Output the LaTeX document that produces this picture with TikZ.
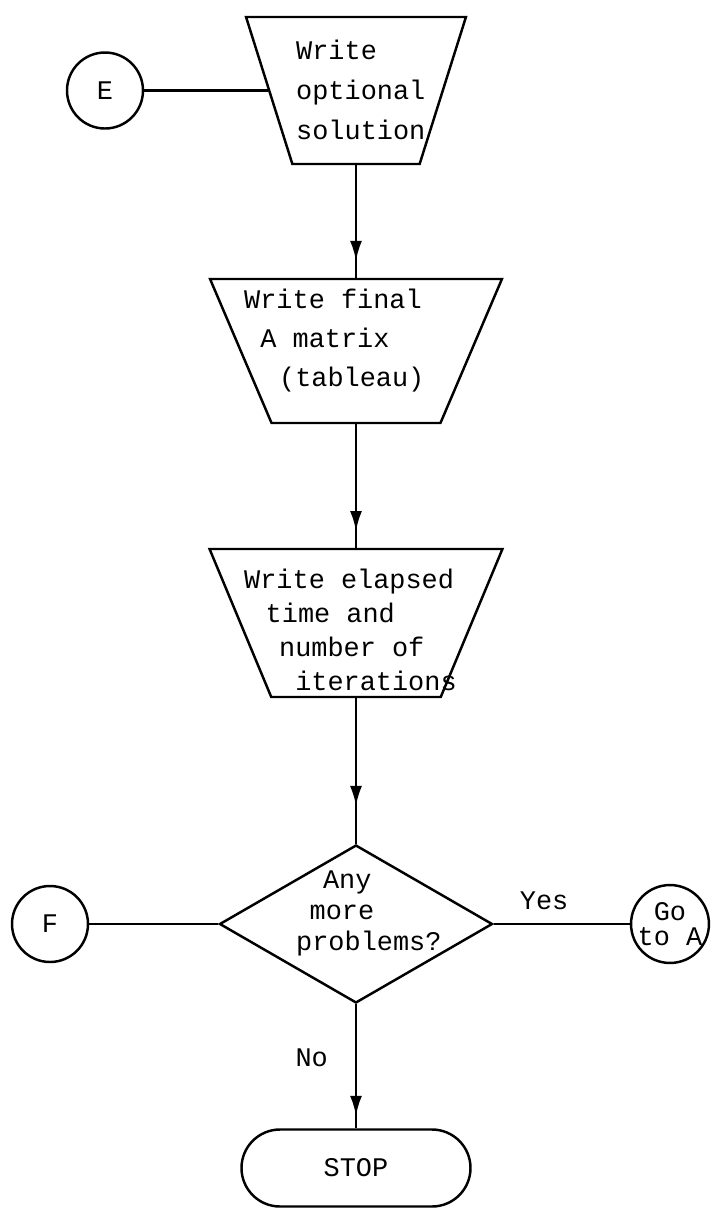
\documentclass[tikz,border=0pt]{standalone}
\usepackage{fontspec}
\setmonofont{Liberation Mono}
\usetikzlibrary{arrows.meta,shapes.geometric,decorations.markings}

\begin{document}
\begin{tikzpicture}[line width=1.4pt, font=\ttfamily\fontsize{15.3}{19}\selectfont,
    iobox/.style={draw, trapezium, trapezium left angle=70, trapezium right angle=70,
        shape border rotate=180, trapezium stretches=true, inner sep=2pt},
    conn/.style={draw, circle, inner sep=0pt, minimum size=1.52cm},
    flowtext/.style={align=left, anchor=west, inner sep=0pt,
        font=\ttfamily\fontsize{15.3}{#1}\selectfont},
    headat/.style={postaction={decorate}, decoration={markings,
        mark=at position #1 with {\arrow{Latex[length=4mm,width=2.4mm]}}}}]
    \useasboundingbox (0,0) rectangle (14.22,-24.32);

    \node[iobox, minimum width=4.40cm, minimum height=2.94cm] (opt) at (7.12,-1.81) {};
    \node[flowtext=22.8pt] (opttxt) at (5.90,-1.80) {Write\\optional\\solution};
    \node[conn] (E) at (2.10,-1.81) {E};
    \draw (E) -- (opt);

    \node[iobox, minimum width=5.84cm, minimum height=2.88cm] (fin) at (7.12,-7.02) {};
    \node[flowtext=22.2pt] (fintxt) at (4.86,-6.82) {Write final\\\hspace*{0.6em}A matrix\\\hspace*{1.3em}(tableau)};
    \draw[headat=0.85] (opt) -- (fin);

    \node[iobox, minimum width=5.86cm, minimum height=2.96cm] (ela) at (7.12,-12.46) {};
    \node[flowtext=19.4pt] (elatxt) at (4.86,-12.60) {Write elapsed\\\hspace*{0.8em}time and\\\hspace*{1.3em}number of\\\hspace*{1.9em}iterations};
    \draw[headat=0.865] (fin) -- (ela);

    \node[draw, diamond, minimum width=5.46cm, minimum height=3.16cm] (more) at (7.12,-18.48) {};
    \node[flowtext=17.6pt] (moretxt) at (5.90,-18.26) {\hspace*{1.0em}Any\\\hspace*{0.5em}more\\problems?};
    \draw[headat=0.74] (ela) -- (more);

    \node[conn] (F) at (1.00,-18.48) {F};
    \node[conn, align=left, font=\ttfamily\fontsize{15.3}{14.5}\selectfont] (goa) at (13.40,-18.48) {\hspace*{0.6em}Go\\to A};
    \draw (more) -- (F);
    \draw (more) -- node[pos=0.37, above=4pt] (yes) {Yes} (goa);

    \node[draw, rounded corners=0.77cm, minimum width=4.58cm, minimum height=1.54cm] (stop) at (7.12,-23.36) {STOP};
    \draw[headat=0.9] (more) -- node[pos=0.43, left=12pt] (no) {No} (stop);
\end{tikzpicture}
\end{document}
